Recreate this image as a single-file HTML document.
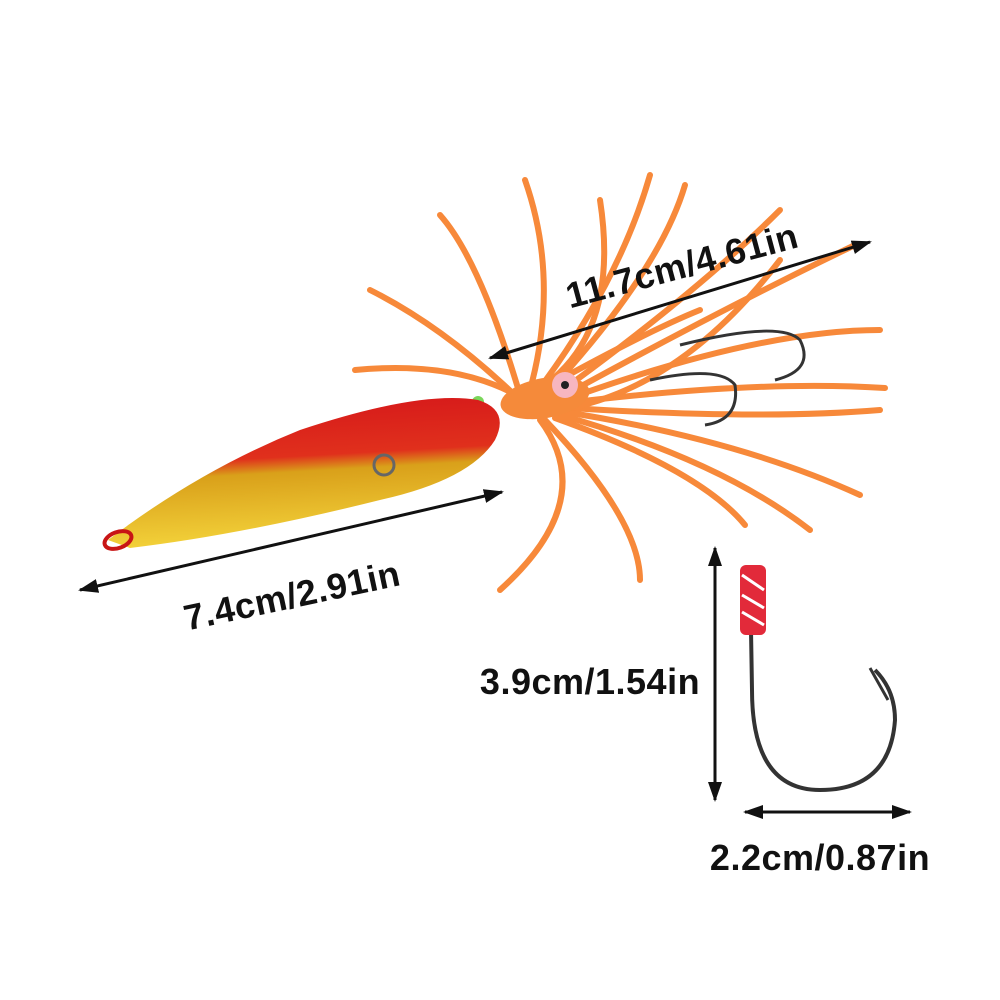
<!DOCTYPE html>
<html><head><meta charset="utf-8"><style>
html,body{margin:0;padding:0;background:#fff;}
svg{display:block}
text{font-family:"Liberation Sans",sans-serif;font-weight:bold;fill:#111;letter-spacing:0.5px}
</style></head><body>
<svg width="1000" height="1000" viewBox="0 0 1000 1000">
<defs>
<linearGradient id="body" x1="0" y1="0" x2="0.15" y2="1">
<stop offset="0" stop-color="#d4141a"/><stop offset="0.45" stop-color="#e0301c"/>
<stop offset="0.55" stop-color="#d9a01a"/><stop offset="1" stop-color="#f3d23a"/>
</linearGradient>
<marker id="ah" markerWidth="20" markerHeight="14" refX="18" refY="7" orient="auto-start-reverse" markerUnits="userSpaceOnUse">
<path d="M0,0 L20,7 L0,14 z" fill="#111"/></marker>
</defs>
<!-- tentacles -->
<g stroke="#f7893a" stroke-width="6" stroke-linecap="round" fill="none">
<path d="M520,395 Q480,260 440,215"/>
<path d="M530,390 Q560,280 525,180"/>
<path d="M540,388 Q620,280 650,175"/>
<path d="M550,390 Q660,270 685,185"/>
<path d="M560,392 Q700,290 780,210"/>
<path d="M565,395 Q720,310 855,245"/>
<path d="M570,398 Q760,330 880,330"/>
<path d="M575,402 Q760,380 885,388"/>
<path d="M570,408 Q760,420 880,410"/>
<path d="M565,412 Q740,440 860,495"/>
<path d="M560,415 Q720,460 810,530"/>
<path d="M555,418 Q700,470 745,525"/>
<path d="M545,420 Q640,520 640,580"/>
<path d="M540,420 Q600,500 500,590"/>
<path d="M530,410 Q450,330 370,290"/>
<path d="M525,400 Q460,360 355,370"/>
<path d="M545,385 Q620,330 600,200"/>
<path d="M550,385 Q650,330 700,310"/>
<path d="M560,410 Q680,390 780,260"/>
</g>
<ellipse cx="545" cy="398" rx="45" ry="20" fill="#f58a3a" transform="rotate(-10 545 398)"/>
<circle cx="565" cy="385" r="13" fill="#f7b6c0"/><circle cx="565" cy="385" r="4" fill="#222"/>
<circle cx="478" cy="402" r="6" fill="#7ad65a"/>
<path d="M680,345 Q780,320 800,340 Q815,370 775,380" fill="none" stroke="#333" stroke-width="3"/>
<path d="M650,380 Q720,365 735,385 Q740,420 705,425" fill="none" stroke="#333" stroke-width="3"/>
<path d="M108,540 Q200,470 300,430 Q420,390 478,400 Q510,410 495,440 Q470,480 380,500 Q240,535 130,548 Z" fill="url(#body)"/>
<ellipse cx="118" cy="540" rx="14" ry="8" fill="none" stroke="#c81515" stroke-width="4" transform="rotate(-20 118 540)"/>
<circle cx="384" cy="465" r="10" fill="none" stroke="#666" stroke-width="3"/>
<path d="M750,570 L752,690 Q752,790 820,790 Q890,790 895,720 Q895,690 875,670" fill="none" stroke="#333" stroke-width="4"/>
<path d="M870,668 L888,700" stroke="#333" stroke-width="3"/>
<rect x="740" y="565" width="26" height="70" rx="6" fill="#e22a3a"/>
<path d="M742,575 L764,590 M742,595 L764,608 M742,612 L764,625" stroke="#fff" stroke-width="3"/>
<g stroke="#111" stroke-width="3">
<line x1="490" y1="358" x2="870" y2="242" marker-start="url(#ah)" marker-end="url(#ah)"/>
<line x1="80" y1="590" x2="502" y2="492" marker-start="url(#ah)" marker-end="url(#ah)"/>
<line x1="715" y1="548" x2="715" y2="800" marker-start="url(#ah)" marker-end="url(#ah)"/>
<line x1="745" y1="812" x2="910" y2="812" marker-start="url(#ah)" marker-end="url(#ah)"/>
</g>
<text x="682" y="278" font-size="36" text-anchor="middle" transform="rotate(-15 682 266)">11.7cm/4.61in</text>
<text x="292" y="608" font-size="36" text-anchor="middle" transform="rotate(-12 292 596)">7.4cm/2.91in</text>
<text x="590" y="694" font-size="36" text-anchor="middle">3.9cm/1.54in</text>
<text x="820" y="870" font-size="36" text-anchor="middle">2.2cm/0.87in</text>
</svg>
</body></html>
